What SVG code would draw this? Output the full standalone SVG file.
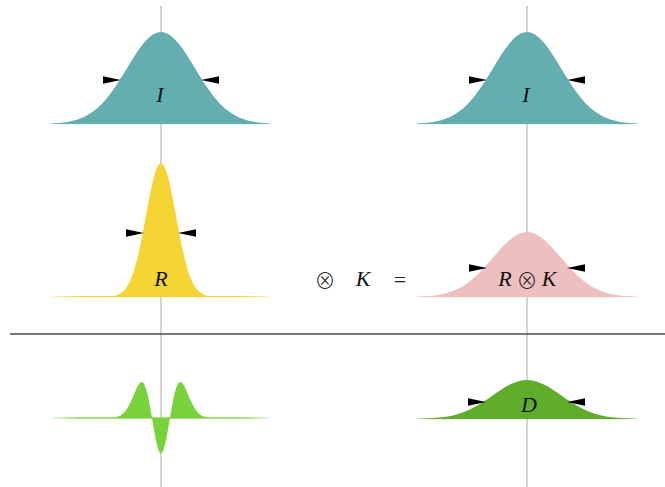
<svg xmlns="http://www.w3.org/2000/svg" xmlns:xlink="http://www.w3.org/1999/xlink" width="665" height="487" viewBox="0 0 665 487">
<style>
.ax{stroke:#a9a9a9;stroke-width:1;fill:none}
.sep{stroke:#4a4a4a;stroke-width:1.6;fill:none}
.lbl{font-family:"Liberation Serif","Times New Roman",serif;font-style:italic;font-size:22px;fill:#111;text-anchor:middle}
.op{font-family:"Noto Sans CJK SC","DejaVu Sans",sans-serif;font-style:normal;font-weight:300;font-size:21px;fill:#222;text-anchor:middle}
.eq{font-family:"Liberation Serif","Times New Roman",serif;font-size:22px;fill:#222;text-anchor:middle}
.teal{fill:#63afb0}.yel{fill:#f4d533}.pink{fill:#eebfbf}.lgr{fill:#78d23c}.dgr{fill:#60ad2b}
.ar{fill:#000}
</style>
<defs>
<path id="gauss" d="M-3.5,0 L-3.5,0.00219 C-3.3333,0.00347 -3.1667,0.00556 -3,0.01111 C-2.8333,0.01666 -2.6667,0.02564 -2.5,0.04394 C-2.3333,0.06224 -2.1667,0.09018 -2,0.1353 C-1.8333,0.18042 -1.6667,0.24353 -1.5,0.3247 C-1.3333,0.40587 -1.1667,0.50542 -1,0.6065 C-0.8333,0.70758 -0.6667,0.80896 -0.5,0.8825 C-0.3333,0.95604 -0.1667,1 0,1 C0.1667,1 0.3333,0.95604 0.5,0.8825 C0.6667,0.80896 0.8333,0.70758 1,0.6065 C1.1667,0.50542 1.3333,0.40587 1.5,0.3247 C1.6667,0.24353 1.8333,0.18042 2,0.1353 C2.1667,0.09018 2.3333,0.06224 2.5,0.04394 C2.6667,0.02564 2.8333,0.01666 3,0.01111 C3.1667,0.00556 3.3333,0.00347 3.5,0.00219 L3.5,0 Z"/>
<path id="dog" d="M-4.5,0 L-4.5,0.00079 C-4.3333,0.00132 -4.1667,0.00218 -4,0.00518 C-3.8333,0.00818 -3.6667,0.01323 -3.5,0.02562 C-3.3333,0.03801 -3.1667,0.05805 -3,0.09388 C-2.8333,0.12971 -2.6667,0.18272 -2.5,0.25046 C-2.3333,0.3182 -2.1667,0.40139 -2,0.46679 C-1.8333,0.53219 -1.6667,0.57634 -1.5,0.55199 C-1.3333,0.52764 -1.1667,0.42961 -1,0.27293 C-0.8333,0.11625 -0.6667,-0.0956 -0.5,-0.26475 C-0.3333,-0.4339 -0.1667,-0.55 0,-0.55 C0.1667,-0.55 0.3333,-0.4339 0.5,-0.26475 C0.6667,-0.0956 0.8333,0.11625 1,0.27293 C1.1667,0.42961 1.3333,0.52764 1.5,0.55199 C1.6667,0.57634 1.8333,0.53219 2,0.46679 C2.1667,0.40139 2.3333,0.3182 2.5,0.25046 C2.6667,0.18272 2.8333,0.12971 3,0.09388 C3.1667,0.05805 3.3333,0.03801 3.5,0.02562 C3.6667,0.01323 3.8333,0.00818 4,0.00518 C4.1667,0.00218 4.3333,0.00132 4.5,0.00079 L4.5,0 Z"/>
<path id="arr" d="M0,0 L-18,-3.8 L-18,3.8 Z"/>
<linearGradient id="fg" x1="0" y1="0" x2="1" y2="0">
<stop offset="0" stop-color="#fff" stop-opacity="0.2"/>
<stop offset="0.12" stop-color="#fff" stop-opacity="1"/>
<stop offset="0.88" stop-color="#fff" stop-opacity="1"/>
<stop offset="1" stop-color="#fff" stop-opacity="0.2"/>
</linearGradient>
<mask id="fade" maskContentUnits="objectBoundingBox"><rect x="0" y="0" width="1" height="1" fill="url(#fg)"/></mask>
<clipPath id="cl"><rect x="52" y="0" width="218" height="487"/></clipPath>
<clipPath id="cr"><rect x="417" y="0" width="220" height="487"/></clipPath>
</defs>
<rect width="665" height="487" fill="#fff"/>
<g id="connectors">
<line class="ax" x1="161" y1="6" x2="161" y2="487"/>
<line class="ax" x1="527" y1="6" x2="527" y2="487"/>
<line class="sep" x1="10" y1="334" x2="665" y2="334"/>
</g>
<g id="node-I-left">
<rect class="teal" x="52" y="122.8" width="218" height="1.6" mask="url(#fade)"/>
<g clip-path="url(#cl)"><use xlink:href="#gauss" class="teal" transform="translate(161,124) scale(34,-92)"/></g>
<use xlink:href="#arr" class="ar" transform="translate(121,80)"/>
<use xlink:href="#arr" class="ar" transform="translate(201,80) scale(-1,1)"/>
<text class="lbl" x="160" y="102">I</text>
</g>
<g id="node-I-right">
<rect class="teal" x="417" y="122.8" width="220" height="1.6" mask="url(#fade)"/>
<g clip-path="url(#cr)"><use xlink:href="#gauss" class="teal" transform="translate(527,124) scale(34,-92)"/></g>
<use xlink:href="#arr" class="ar" transform="translate(487,80)"/>
<use xlink:href="#arr" class="ar" transform="translate(567,80) scale(-1,1)"/>
<text class="lbl" x="526" y="102">I</text>
</g>
<g id="node-R">
<rect class="yel" x="52" y="295.8" width="218" height="1.6" mask="url(#fade)"/>
<use xlink:href="#gauss" class="yel" transform="translate(161,297) scale(15,-134)"/>
<use xlink:href="#arr" class="ar" transform="translate(144,233)"/>
<use xlink:href="#arr" class="ar" transform="translate(178,233) scale(-1,1)"/>
<text class="lbl" x="161" y="286">R</text>
</g>
<g id="node-K">
<text class="op" x="325" y="288">⊗</text>
<text class="lbl" x="363" y="286">K</text>
<text class="eq" x="400" y="287">=</text>
</g>
<g id="node-RK">
<rect class="pink" x="417" y="295.8" width="220" height="1.6" mask="url(#fade)"/>
<g clip-path="url(#cr)"><use xlink:href="#gauss" class="pink" transform="translate(527,297) scale(34,-65)"/></g>
<use xlink:href="#arr" class="ar" transform="translate(487,268)"/>
<use xlink:href="#arr" class="ar" transform="translate(567,268) scale(-1,1)"/>
<text class="lbl" x="505" y="286">R</text>
<text class="op" x="527" y="288">⊗</text>
<text class="lbl" x="549" y="286">K</text>
</g>
<g id="node-diff">
<rect class="lgr" x="52" y="417.2" width="218" height="1.6" mask="url(#fade)"/>
<use xlink:href="#dog" class="lgr" transform="translate(161,418) scale(12.1,-64.5)"/>
</g>
<g id="node-D">
<rect class="dgr" x="417" y="417.8" width="220" height="1.6" mask="url(#fade)"/>
<g clip-path="url(#cr)"><use xlink:href="#gauss" class="dgr" transform="translate(527,419) scale(34,-39)"/></g>
<use xlink:href="#arr" class="ar" transform="translate(486,402)"/>
<use xlink:href="#arr" class="ar" transform="translate(567,402) scale(-1,1)"/>
<text class="lbl" x="529" y="412">D</text>
</g>
</svg>
